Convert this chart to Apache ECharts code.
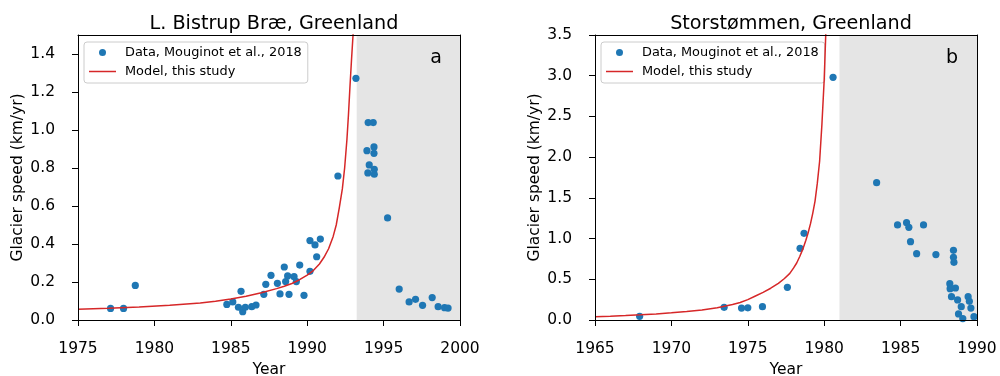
<!DOCTYPE html>
<html>
<head>
<meta charset="utf-8">
<script src="https://cdn.jsdelivr.net/npm/echarts@6/dist/echarts.min.js"></script>
<style>
html,body{margin:0;padding:0;background:#fff;}
#chart{width:1000px;height:376px;}
</style>
</head>
<body>
<div id="chart"></div>
<script>
// ---- Panel a: L. Bistrup Bræ ----
const leftTitle = 'L. Bistrup Bræ, Greenland';
const leftDataYears = [1977.13, 1977.98, 1978.75, 1984.74, 1985.13, 1985.67, 1985.5, 1985.78, 1985.95, 1986.37,
  1986.65, 1987.16, 1987.29, 1987.63, 1988.05, 1988.22, 1988.5, 1988.59, 1988.72, 1988.81,
  1989.14, 1989.29, 1989.51, 1989.79, 1990.18, 1990.18, 1990.51, 1990.62, 1990.86, 1992.01,
  1993.19, 1993.99, 1994.32, 1993.91, 1994.37, 1994.37, 1994.06, 1994.39, 1993.97, 1994.39,
  1995.26, 1996.02, 1996.67, 1997.09, 1997.55, 1998.18, 1998.57, 1998.99, 1999.22];
const leftDataSpeeds = [0.061, 0.061, 0.182, 0.082, 0.095, 0.151, 0.067, 0.044, 0.067, 0.070,
  0.079, 0.135, 0.188, 0.235, 0.193, 0.137, 0.279, 0.202, 0.232, 0.135,
  0.228, 0.202, 0.289, 0.130, 0.256, 0.418, 0.395, 0.333, 0.426, 0.758,
  1.272, 1.039, 1.039, 0.891, 0.911, 0.877, 0.816, 0.793, 0.774, 0.767,
  0.537, 0.163, 0.095, 0.109, 0.077, 0.118, 0.070, 0.065, 0.063];
const leftModelYears = [1975, 1977, 1979, 1981, 1983, 1984, 1985, 1986, 1987, 1988,
  1988.5, 1989, 1989.5, 1990, 1990.4, 1990.8, 1991.1, 1991.4, 1991.7, 1991.9,
  1992.1, 1992.3, 1992.45, 1992.6, 1992.7, 1992.8, 1992.9, 1993.0, 1993.1];
const leftModelSpeeds = [0.056, 0.062, 0.069, 0.078, 0.090, 0.099, 0.111, 0.125, 0.143, 0.165,
  0.178, 0.192, 0.212, 0.236, 0.26, 0.295, 0.33, 0.375, 0.44, 0.50,
  0.59, 0.69, 0.80, 0.95, 1.08, 1.23, 1.37, 1.5, 1.66];
const leftShade = [1993.24, 2000];
const leftXTicks = [1975, 1980, 1985, 1990, 1995, 2000];
const leftYTicks = [0, 0.2, 0.4, 0.6, 0.8, 1.0, 1.2, 1.4];
const leftPanelLetter = 'a';

// ---- Panel b: Storstømmen ----
const rightTitle = 'Storstømmen, Greenland';
const rightDataYears = [1967.92, 1973.45, 1974.59, 1975.0, 1975.96, 1977.59, 1978.42, 1978.68, 1980.58, 1983.43,
  1984.8, 1985.39, 1985.54, 1985.65, 1986.05, 1986.5, 1987.31, 1988.46, 1988.46, 1988.49,
  1988.22, 1988.24, 1988.59, 1988.33, 1988.73, 1988.97, 1988.79, 1989.07, 1989.42, 1989.5,
  1989.6, 1989.8];
const rightDataSpeeds = [0.045, 0.156, 0.147, 0.15, 0.164, 0.401, 0.88, 1.064, 2.98, 1.686,
  1.167, 1.195, 1.138, 0.962, 0.815, 1.167, 0.803, 0.856, 0.77, 0.708,
  0.446, 0.385, 0.393, 0.287, 0.246, 0.164, 0.074, 0.017, 0.287, 0.229,
  0.147, 0.041];
const rightModelYears = [1965, 1966, 1967, 1968, 1969, 1970, 1971, 1972, 1973, 1974,
  1974.5, 1975, 1975.5, 1976, 1976.5, 1977, 1977.4, 1977.75, 1978, 1978.2,
  1978.4, 1978.6, 1978.8, 1978.94, 1979.1, 1979.25, 1979.4, 1979.55, 1979.7, 1979.85,
  1980.0, 1980.1, 1980.2];
const rightModelSpeeds = [0.04, 0.047, 0.055, 0.064, 0.075, 0.088, 0.104, 0.124, 0.15, 0.19,
  0.215, 0.25, 0.295, 0.34, 0.39, 0.45, 0.51, 0.573, 0.64, 0.70,
  0.78, 0.87, 0.98, 1.065, 1.18, 1.31, 1.46, 1.68, 1.95, 2.4,
  2.95, 3.5, 4.1];
const rightShade = [1981.0, 1990];
const rightXTicks = [1965, 1970, 1975, 1980, 1985, 1990];
const rightYTicks = [0, 0.5, 1.0, 1.5, 2.0, 2.5, 3.0, 3.5];
const rightPanelLetter = 'b';

const dataName = 'Data, Mouginot et al., 2018';
const modelName = 'Model, this study';
const xName = 'Year';
const yName = 'Glacier speed (km/yr)';

const FONT = 'DejaVu Sans';
const zip = (a, b) => a.map((v, i) => [v, b[i]]);

const grids = [
  {left: 78, top: 35, width: 382, height: 285, containLabel: false, outerBoundsMode: 'none'},
  {left: 595, top: 35, width: 382, height: 285, containLabel: false, outerBoundsMode: 'none'}
];

function mainX(gi, ticks) {
  return {
    gridIndex: gi, type: 'value', position: 'bottom',
    min: ticks[0], max: ticks[ticks.length - 1], interval: ticks[1] - ticks[0],
    z: 10,
    axisLine: {show: true, onZero: false, lineStyle: {color: '#000', width: 1}},
    axisTick: {show: true, length: 6, lineStyle: {color: '#000', width: 1}},
    axisLabel: {show: true, margin: 21, color: '#000', fontSize: 15.5, fontFamily: FONT,
      formatter: v => String(Math.round(v))},
    splitLine: {show: false},
    name: xName, nameLocation: 'middle', nameGap: 40,
    nameTextStyle: {color: '#000', fontSize: 15.5, fontFamily: FONT}
  };
}
function frameX(gi, ticks) {
  return {
    gridIndex: gi, type: 'value', position: 'top',
    min: ticks[0], max: ticks[ticks.length - 1], z: 10,
    axisLine: {show: true, onZero: false, lineStyle: {color: '#000', width: 1}},
    axisTick: {show: false}, axisLabel: {show: false}, splitLine: {show: false}
  };
}
function mainY(gi, ticks, max) {
  return {
    gridIndex: gi, type: 'value', position: 'left', min: 0, max: max,
    z: 10,
    axisLine: {show: true, onZero: false, lineStyle: {color: '#000', width: 1}},
    axisTick: {show: true, length: 6, customValues: ticks, lineStyle: {color: '#000', width: 1}},
    axisLabel: {show: true, margin: 23, color: '#000', fontSize: 15.5, fontFamily: FONT,
      customValues: ticks, formatter: v => v.toFixed(1)},
    splitLine: {show: false},
    name: yName, nameLocation: 'middle', nameGap: 52, nameRotate: 90,
    nameTextStyle: {color: '#000', fontSize: 15.5, fontFamily: FONT}
  };
}
function frameY(gi, max) {
  return {
    gridIndex: gi, type: 'value', position: 'right', min: 0, max: max, z: 10,
    axisLine: {show: true, onZero: false, lineStyle: {color: '#000', width: 1}},
    axisTick: {show: false}, axisLabel: {show: false}, splitLine: {show: false}
  };
}

function legendFor(left) {
  return {
    left: left, top: 42, orient: 'vertical',
    padding: [3, 6, 4, 5], itemGap: 4, itemWidth: 27, itemHeight: 7,
    symbolKeepAspect: true,
    backgroundColor: '#fff', borderColor: '#cccccc', borderWidth: 1, borderRadius: 3,
    textStyle: {color: '#000', fontSize: 12.9, fontFamily: FONT, lineHeight: 15, padding: [0, 0, 0, 4]},
    selectedMode: false,
    data: [
      {name: dataName, icon: 'circle'},
      {name: modelName, icon: 'path://M0,0L27,0L27,1.5L0,1.5Z', itemStyle: {color: '#d62728'}}
    ]
  };
}

function panelSeries(gi, dYears, dSpeeds, mYears, mSpeeds, shade) {
  return [
    {
      name: dataName, type: 'scatter', xAxisIndex: gi * 2, yAxisIndex: gi * 2,
      data: zip(dYears, dSpeeds), symbol: 'circle', symbolSize: 7.2, z: 3,
      itemStyle: {color: '#1f77b4', opacity: 1}, clip: true, silent: true,
      markArea: {
        silent: true, z: 1,
        itemStyle: {color: '#e5e5e5'},
        data: [[{xAxis: shade[0]}, {xAxis: shade[1]}]]
      }
    },
    {
      name: modelName, type: 'line', xAxisIndex: gi * 2, yAxisIndex: gi * 2,
      data: zip(mYears, mSpeeds), symbol: 'none', smooth: false,
      clip: true, z: 4, silent: true,
      lineStyle: {color: '#d62728', width: 1.5}, itemStyle: {color: '#d62728'}
    }
  ];
}

const chart = echarts.init(document.getElementById('chart'), null, {renderer: 'canvas'});
chart.setOption({
  animation: false,
  backgroundColor: '#fff',
  title: [
    {text: leftTitle, left: 269, top: 10, textAlign: 'center',
      textStyle: {fontSize: 19.2, fontWeight: 'normal', color: '#000', fontFamily: FONT}},
    {text: rightTitle, left: 786, top: 10, textAlign: 'center',
      textStyle: {fontSize: 19.2, fontWeight: 'normal', color: '#000', fontFamily: FONT}}
  ],
  grid: grids,
  xAxis: [mainX(0, leftXTicks), frameX(0, leftXTicks), mainX(1, rightXTicks), frameX(1, rightXTicks)],
  yAxis: [mainY(0, leftYTicks, 1.5), frameY(0, 1.5), mainY(1, rightYTicks, 3.5), frameY(1, 3.5)],
  legend: [legendFor(84), legendFor(601)],
  graphic: [
    {type: 'text', x: 436, y: 58, z: 20,
      style: {text: leftPanelLetter, font: '19px "DejaVu Sans"', fill: '#000', textAlign: 'center', textVerticalAlign: 'middle'}},
    {type: 'text', x: 952, y: 58, z: 20,
      style: {text: rightPanelLetter, font: '19px "DejaVu Sans"', fill: '#000', textAlign: 'center', textVerticalAlign: 'middle'}}
  ],
  series: [
    ...panelSeries(0, leftDataYears, leftDataSpeeds, leftModelYears, leftModelSpeeds, leftShade),
    ...panelSeries(1, rightDataYears, rightDataSpeeds, rightModelYears, rightModelSpeeds, rightShade)
  ]
});
</script>
</body>
</html>
